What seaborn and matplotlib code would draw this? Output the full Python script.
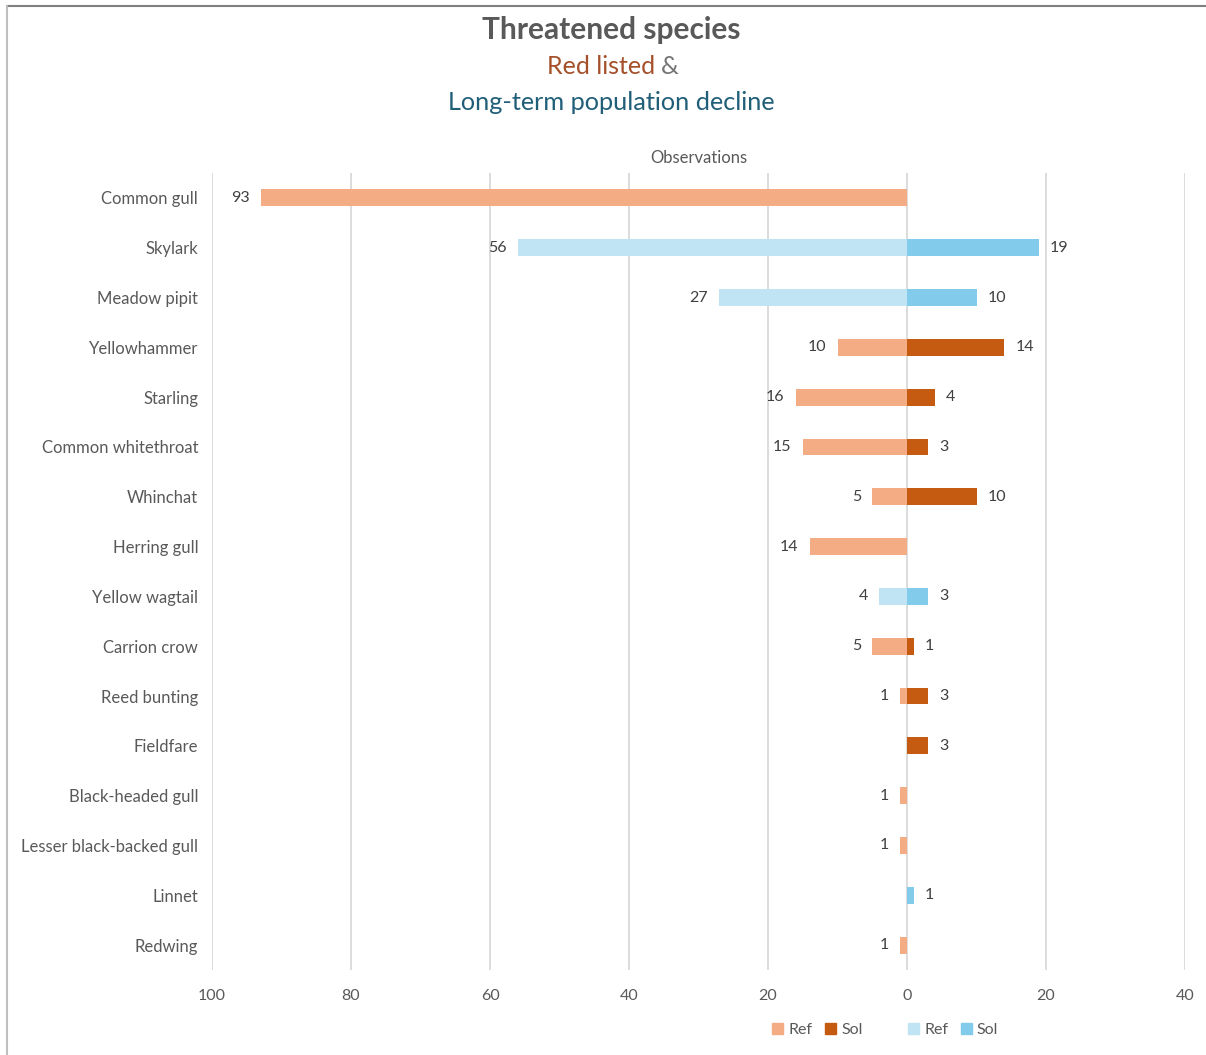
import matplotlib
matplotlib.use("Agg")
import matplotlib.pyplot as plt
from matplotlib.patches import Patch
from matplotlib.lines import Line2D
import seaborn as sns
import pandas as pd

# Species observations: reference area (left) vs solar area (right)
species = ["Common gull", "Skylark", "Meadow pipit", "Yellowhammer", "Starling",
           "Common whitethroat", "Whinchat", "Herring gull", "Yellow wagtail",
           "Carrion crow", "Reed bunting", "Fieldfare", "Black-headed gull",
           "Lesser black-backed gull", "Linnet", "Redwing"]
status = ["red", "decline", "decline", "red", "red", "red", "red", "red",
          "decline", "red", "red", "red", "red", "red", "decline", "red"]
ref_counts = [93, 56, 27, 10, 16, 15, 5, 14, 4, 5, 1, 0, 1, 1, 0, 1]
sol_counts = [0, 19, 10, 14, 4, 3, 10, 0, 3, 1, 3, 3, 0, 0, 1, 0]
xticks = [-100, -80, -60, -40, -20, 0, 20, 40]

palette = {
    "red Ref": "#F4AC84",
    "red Sol": "#C55A11",
    "decline Ref": "#C1E4F5",
    "decline Sol": "#83CBEB",
}

rows = []
for sp, st, r, s in zip(species, status, ref_counts, sol_counts):
    if r:
        rows.append({"species": sp, "value": -r, "group": f"{st} Ref"})
    if s:
        rows.append({"species": sp, "value": s, "group": f"{st} Sol"})
df = pd.DataFrame(rows)

sns.set_theme(style="white")
plt.rcParams["font.family"] = ["Lato", "DejaVu Sans"]

fig = plt.figure(figsize=(12.06, 10.55), dpi=100)
ax = fig.add_axes([0.1758, 0.0806, 0.8068, 0.7554])

sns.barplot(data=df, y="species", x="value", hue="group", order=species,
            hue_order=list(palette), palette=palette, dodge=False,
            width=0.34, orient="h", ax=ax, legend=False, saturation=1,
            linewidth=0)

ax.set_xlim(-100, 40)
ax.set_ylim(15.5, -0.5)
ax.set_xticks(xticks)
ax.set_xticklabels([str(abs(t)) for t in xticks])
ax.grid(axis="x", color="#D9D9D9", linewidth=1.3)
ax.grid(axis="y", visible=False)
ax.set_axisbelow(True)
for sp_ in ax.spines.values():
    sp_.set_visible(False)
ax.tick_params(axis="x", length=0, pad=14, labelsize=11.5, labelcolor="#595959")
ax.tick_params(axis="y", length=0, pad=10, labelsize=12, labelcolor="#595959")
ax.set_xlabel("")
ax.set_ylabel("")
ax.set_title("Observations", fontsize=12, color="#595959", pad=7)

for cont in ax.containers:
    labels = [f"{abs(b.get_width()):.0f}" if b.get_width() else "" for b in cont]
    ax.bar_label(cont, labels=labels, padding=8, fontsize=11.5, color="#404040")

# Headline
fig.text(0.5066, 0.9716, "Threatened species", ha="center", va="center",
         fontsize=21.5, fontweight="bold", color="#595959")
fig.text(0.5431, 0.9365, "Red listed", ha="right", va="center",
         fontsize=18, color="#A5502A")
fig.text(0.5480, 0.9365, "&", ha="left", va="center",
         fontsize=18, color="#757575")
fig.text(0.5066, 0.9033, "Long-term population decline", ha="center", va="center",
         fontsize=18.2, color="#215F79")

handles = [Patch(color=palette["red Ref"], label="Ref"),
           Patch(color=palette["red Sol"], label="Sol"),
           Patch(color="none", label=" "),
           Patch(color=palette["decline Ref"], label="Ref"),
           Patch(color=palette["decline Sol"], label="Sol")]
leg = fig.legend(handles=handles, loc="center", bbox_to_anchor=(0.734, 0.0237),
                 ncol=5, frameon=False, fontsize=11.5, handlelength=0.7,
                 handleheight=0.7, handletextpad=0.3, columnspacing=0.8)
for t in leg.get_texts():
    t.set_color("#595959")

# Chart frame
fig.add_artist(Line2D([0.0058, 1.0], [0.9943, 0.9943], color="#808080", linewidth=1.5))
fig.add_artist(Line2D([0.0058, 0.0058], [0.0, 0.9943], color="#BFBFBF", linewidth=1.5))

fig.savefig("out.png", dpi=100)
